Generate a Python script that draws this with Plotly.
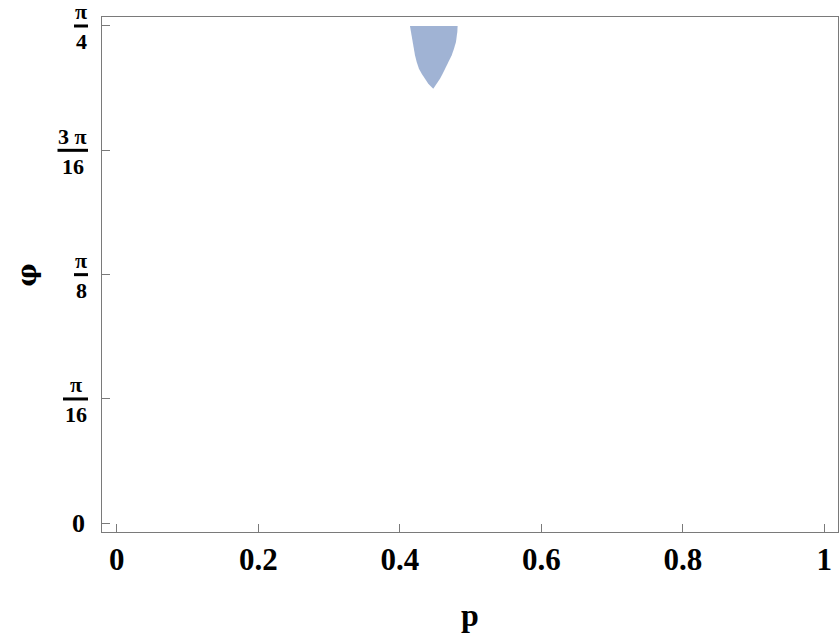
import math
import plotly.graph_objects as go

# Region boundary (p, phi)
phi_levels = [0.7854, 0.7759, 0.7601, 0.7495, 0.7391, 0.7285, 0.7180, 0.7101, 0.7022, 0.6943, 0.6864]
p_left = [0.4144, 0.4158, 0.4177, 0.4196, 0.4215, 0.4239, 0.4271, 0.4310, 0.4356, 0.4403, 0.4473]
p_right = [0.4818, 0.4813, 0.4794, 0.4766, 0.4734, 0.4691, 0.4639, 0.4606, 0.4568, 0.4522, 0.4473]

x_ticks = [0, 0.2, 0.4, 0.6, 0.8, 1]
x_ticktext = ["0", "0.2", "0.4", "0.6", "0.8", "1"]
y_ticks = [0, math.pi / 16, math.pi / 8, 3 * math.pi / 16, math.pi / 4]
y_num = [None, "π", "π", "3 π", "π"]
y_den = [None, "16", "8", "16", "4"]

FONT = "Liberation Serif"
FRAME = "#7a7a7a"

xs = p_left + p_right[::-1]
ys = phi_levels + phi_levels[::-1]

fig = go.Figure()
fig.add_trace(go.Scatter(x=xs, y=ys, fill="toself", mode="lines",
                         line=dict(width=0, color="#a0b3d4"),
                         fillcolor="#a0b3d4", hoverinfo="skip", showlegend=False))

annotations = []
shapes = []
for v, n, d in zip(y_ticks, y_num, y_den):
    if n is None:
        annotations.append(dict(xref="paper", yref="y", x=0, y=v, text="<b>0</b>",
                                xanchor="right", yanchor="middle", xshift=-15, showarrow=False,
                                font=dict(family=FONT, size=26, color="black")))
        continue
    w = 3 + 11 * max(len(n.replace(" ", "")) + (0.5 if " " in n else 0), len(d))
    cx = -14 - w / 2
    annotations.append(dict(xref="paper", yref="y", x=0, y=v, text=f"<b>{n}</b>",
                            xanchor="center", yanchor="middle", xshift=cx, yshift=14,
                            showarrow=False, font=dict(family=FONT, size=22, color="black")))
    annotations.append(dict(xref="paper", yref="y", x=0, y=v, text=f"<b>{d}</b>",
                            xanchor="center", yanchor="middle", xshift=cx, yshift=-16,
                            showarrow=False, font=dict(family=FONT, size=22, color="black")))
    shapes.append(dict(type="line", xref="paper", xsizemode="pixel", xanchor=0,
                       x0=-14 - w, x1=-14, yref="y", y0=v, y1=v,
                       line=dict(color="black", width=3)))

annotations.append(dict(xref="paper", yref="paper", x=(470 - 102) / 736, y=0, text="<b>p</b>",
                        xanchor="center", yanchor="middle", yshift=-83, showarrow=False,
                        font=dict(family=FONT, size=32, color="black")))
annotations.append(dict(xref="paper", yref="y", x=0, y=math.pi / 8, text="<b>φ</b>",
                        xanchor="center", yanchor="middle", xshift=-75, textangle=-90,
                        showarrow=False, font=dict(family="DejaVu Serif", size=26, color="black")))

fig.update_layout(
    width=840, height=635,
    margin=dict(l=102, r=2, t=17, b=103),
    paper_bgcolor="white", plot_bgcolor="white",
    annotations=annotations, shapes=shapes,
    xaxis=dict(range=[-0.0209, 1.0194], tickvals=x_ticks, ticktext=x_ticktext,
               ticks="inside", ticklen=8, tickcolor=FRAME, tickwidth=1,
               showline=True, linecolor=FRAME, linewidth=1, mirror=True,
               showgrid=False, zeroline=False,
               tickfont=dict(family=FONT, size=31, color="black", weight="bold"),
               ticklabelstandoff=0),
    yaxis=dict(range=[-0.01374, 0.7996], tickvals=y_ticks, ticktext=[""] * len(y_ticks),
               ticks="inside", ticklen=8, tickcolor=FRAME, tickwidth=1,
               showline=True, linecolor=FRAME, linewidth=1, mirror=True,
               showgrid=False, zeroline=False),
)

fig.write_html("out.html", config={"displayModeBar": False},
               post_script="document.body.style.margin='0';document.body.style.padding='0';")
